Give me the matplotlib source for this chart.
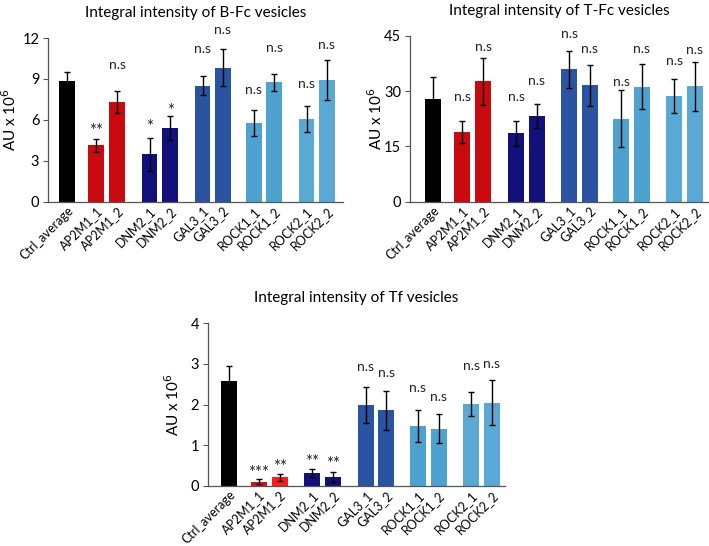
import numpy as np
import matplotlib
matplotlib.use("Agg")
import matplotlib.pyplot as plt

plt.rcParams['font.family'] = ['Lato', 'DejaVu Sans']

# 样本名称和位置
labels = ['Ctrl_average', 'AP2M1_1', 'AP2M1_2', 'DNM2_1', 'DNM2_2', 'GAL3_1', 'GAL3_2',
          'ROCK1_1', 'ROCK1_2', 'ROCK2_1', 'ROCK2_2']
xpos = [0, 1.42, 2.44, 4.02, 5.02, 6.6, 7.58, 9.1, 10.1, 11.67, 12.66]

# B-Fc
bfc_mean = [8.85, 4.13, 7.33, 3.47, 5.40, 8.51, 9.83, 5.77, 8.75, 6.06, 8.92]
bfc_err = [0.64, 0.47, 0.82, 1.19, 0.90, 0.72, 1.37, 0.94, 0.61, 0.95, 1.50]
bfc_sig = ['', '**', 'n.s', '*', '*', 'n.s', 'n.s', 'n.s', 'n.s', 'n.s', 'n.s']
bfc_sig_y = [0, 5.2, 10.0, 5.5, 6.65, 11.2, 12.6, 8.2, 11.3, 8.65, 11.5]

# T-Fc
tfc_mean = [27.8, 19.0, 32.7, 18.6, 23.3, 36.0, 31.6, 22.5, 31.25, 28.7, 31.3]
tfc_err = [6.0, 3.0, 6.45, 3.35, 3.35, 5.0, 5.65, 7.7, 6.2, 4.5, 6.75]
tfc_sig = ['', 'n.s', 'n.s', 'n.s', 'n.s', 'n.s', 'n.s', 'n.s', 'n.s', 'n.s', 'n.s']
tfc_sig_y = [0, 28.5, 42.1, 28.5, 32.8, 45.5, 41.4, 32.5, 41.4, 38.1, 41.2]

# Tf
tf_mean = [2.57, 0.11, 0.21, 0.32, 0.22, 1.99, 1.86, 1.47, 1.41, 2.02, 2.05]
tf_err = [0.39, 0.055, 0.085, 0.09, 0.115, 0.44, 0.48, 0.39, 0.35, 0.29, 0.55]
tf_sig = ['', '***', '**', '**', '**', 'n.s', 'n.s', 'n.s', 'n.s', 'n.s', 'n.s']
tf_sig_y = [0, 0.33, 0.46, 0.58, 0.54, 2.92, 2.77, 2.4, 2.2, 2.95, 2.99]

colors = ['#000000', '#c90a0e', '#c90a0e', '#12107a', '#12107a', '#2a53a1', '#2a53a1',
          '#4ea2cf', '#4ea2cf', '#5aa8d4', '#5aa8d4']
tf_colors = list(colors)
tf_colors[1] = '#d2121a'
tf_colors[2] = '#f81c1c'

fig = plt.figure(figsize=(7.09, 5.46), dpi=100)


def draw_panel(rect, mean, err, sig, sig_y, cols, ymax, yticks, xlim, title, ylab_x):
    ax = fig.add_axes(rect)
    ax.bar(xpos, mean, width=0.77, color=cols, edgecolor='none', zorder=2)
    ax.errorbar(xpos, mean, yerr=err, fmt='none', ecolor='black', elinewidth=1,
                capsize=2.5, capthick=1, zorder=3)
    for x, s, y in zip(xpos, sig, sig_y):
        if s.startswith('*'):
            ax.text(x, y, s, ha='center', va='center', fontsize=12, color='#222222')
        elif s:
            ax.text(x, y, s, ha='center', va='center', fontsize=10, color='#222222')
    ax.set_ylim(0, ymax)
    ax.set_xlim(*xlim)
    ax.set_yticks(yticks)
    ax.set_xticks(xpos)
    ax.set_xticklabels(labels, rotation=45, ha='right', va='top',
                       rotation_mode='anchor', fontsize=9)
    ax.tick_params(axis='x', length=0, pad=2)
    ax.tick_params(axis='y', length=3.5, width=0.8, color='#555555', labelsize=10.5, pad=3)
    for side in ['top', 'right']:
        ax.spines[side].set_visible(False)
    for side in ['left', 'bottom']:
        ax.spines[side].set_color('#555555')
        ax.spines[side].set_linewidth(0.9)
    ax.set_ylabel('AU x 10$^6$', fontsize=11)
    ax.yaxis.set_label_coords(ylab_x, 0.5)
    ax.set_title(title, fontsize=11, pad=15)
    return ax


draw_panel([0.0681, 0.6306, 0.4157, 0.2998], bfc_mean, bfc_err, bfc_sig, bfc_sig_y, colors,
           12, [0, 3, 6, 9, 12], (-0.92, 13.45), 'Integral intensity of B-Fc vesicles', -0.10)
draw_panel([0.5783, 0.6306, 0.4199, 0.3035], tfc_mean, tfc_err, tfc_sig, tfc_sig_y, colors,
           45, [0, 15, 30, 45], (-1.1, 13.28), 'Integral intensity of T-Fc vesicles', -0.084)
draw_panel([0.2938, 0.1099, 0.4185, 0.298], tf_mean, tf_err, tf_sig, tf_sig_y, tf_colors,
           4, [0, 1, 2, 3, 4], (-1.0, 13.3), 'Integral intensity of Tf vesicles', -0.089)

fig.savefig('out.png', dpi=100)
